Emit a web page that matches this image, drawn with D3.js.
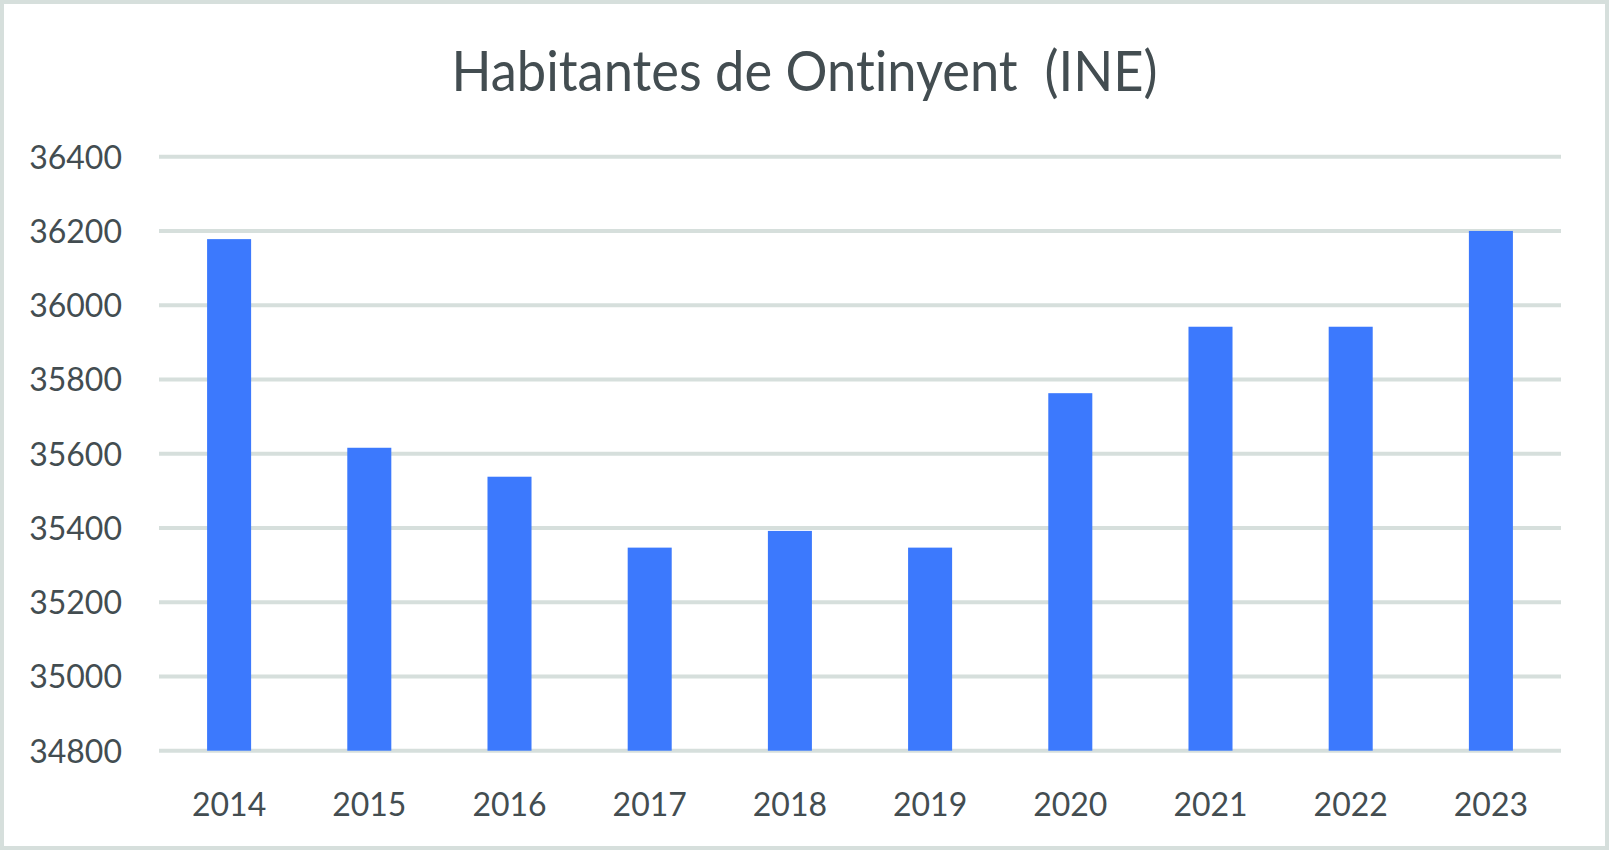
<!DOCTYPE html>
<html><head><meta charset="utf-8">
<script src="https://cdn.jsdelivr.net/npm/d3@7"></script>
<style>html,body{margin:0;padding:0;background:#fff;overflow:hidden} text{font-variant-ligatures:none;font-feature-settings:"liga" 0,"clig" 0}</style>
</head><body>
<svg id="chart" width="1609" height="850"></svg>
<script>
const years = ["2014","2015","2016","2017","2018","2019","2020","2021","2022","2023"];
const habitantes = [36178, 35616, 35538, 35347, 35392, 35347, 35763, 35942, 35942, 36200];
const yTicks = [34800, 35000, 35200, 35400, 35600, 35800, 36000, 36200, 36400];
const titleText = "Habitantes de Ontinyent\u00A0 (INE)";

const W = 1609, H = 850;
const svg = d3.select("#chart");
const textColor = "#434d51";
const gridColor = "#d6dfdc";
const barColor = "#3c79fd";
const font = "Lato, 'Open Sans', sans-serif";

// outer border
svg.append("rect").attr("x", 2).attr("y", 2).attr("width", W - 4).attr("height", H - 4)
  .attr("fill", "#fff").attr("stroke", gridColor).attr("stroke-width", 4);

const x = d3.scaleBand().domain(years).range([159, 1561]).paddingInner(0.686).paddingOuter(0.343);
const y = d3.scaleLinear().domain([34800, 36400]).range([750.7, 156.7]);

// gridlines
svg.append("g").selectAll("line").data(yTicks).join("line")
  .attr("x1", 159).attr("x2", 1561)
  .attr("y1", d => y(d)).attr("y2", d => y(d))
  .attr("stroke", gridColor).attr("stroke-width", 4);

// y axis labels
const yAxis = d3.axisLeft(y).tickValues(yTicks).tickFormat(d3.format("d")).tickSize(0).tickPadding(0);
const gy = svg.append("g").attr("transform", "translate(122,0)").call(yAxis);
gy.select(".domain").remove();
gy.selectAll("text").attr("font-family", font).attr("font-size", 32).attr("fill", textColor)
  .attr("dy", "0.36em");

// bars
svg.append("g").selectAll("rect").data(habitantes).join("rect")
  .attr("x", (d, i) => x(years[i]))
  .attr("width", x.bandwidth())
  .attr("y", d => y(d))
  .attr("height", d => y(34800) - y(d))
  .attr("fill", barColor);

// x axis labels
const xAxis = d3.axisBottom(x).tickSize(0).tickPadding(0);
const gx = svg.append("g").attr("transform", "translate(0,816)").call(xAxis);
gx.select(".domain").remove();
gx.selectAll("text").attr("font-family", font).attr("font-size", 32).attr("fill", textColor)
  .attr("dy", 0).attr("y", 0);

// title
svg.append("text").attr("x", W / 2).attr("y", 91).attr("text-anchor", "middle")
  .attr("font-family", font).attr("font-size", 56).attr("fill", textColor)
  .attr("textLength", 706).attr("lengthAdjust", "spacingAndGlyphs")
  .text(titleText);
</script>
</body></html>
